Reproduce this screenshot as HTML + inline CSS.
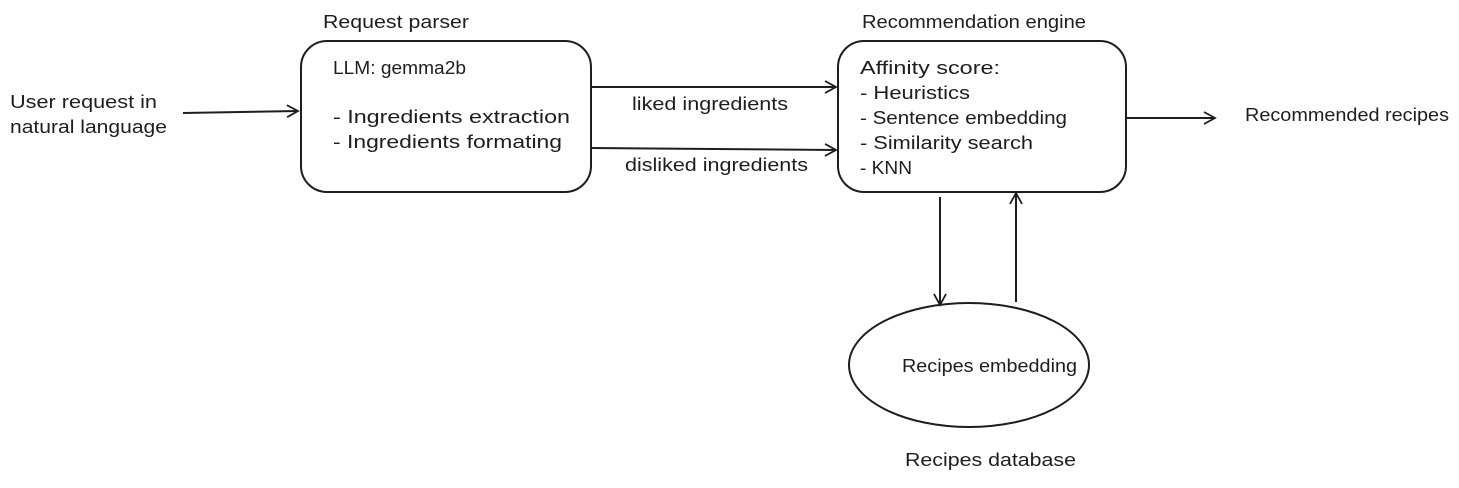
<!DOCTYPE html>
<html><head><meta charset="utf-8"><style>
html,body{margin:0;padding:0;background:#fff;}
svg text{font-family:"Liberation Sans",sans-serif;font-size:18px;fill:#1e1e1e;}
</style></head><body>
<svg width="1459" height="483" viewBox="0 0 1459 483" xmlns="http://www.w3.org/2000/svg">
<defs><marker id="a" markerWidth="14" markerHeight="14" refX="12" refY="7" orient="auto" markerUnits="userSpaceOnUse">
<path d="M1,1 L12,7 L1,13" fill="none" stroke="#1e1e1e" stroke-width="1.8"/></marker></defs>
<g fill="none" stroke="#1e1e1e" stroke-width="2">
<rect x="301" y="41" width="290" height="151" rx="26"/>
<rect x="838" y="41" width="288" height="151" rx="26"/>
<ellipse cx="969" cy="365" rx="120" ry="62"/>
<line x1="183" y1="113" x2="298" y2="111" marker-end="url(#a)"/>
<line x1="591" y1="87" x2="836" y2="87" marker-end="url(#a)"/>
<line x1="591" y1="148" x2="836" y2="150" marker-end="url(#a)"/>
<line x1="1126" y1="118" x2="1215" y2="118" marker-end="url(#a)"/>
<line x1="940" y1="197" x2="940" y2="305" marker-end="url(#a)"/>
<line x1="1016" y1="302" x2="1016" y2="193" marker-end="url(#a)"/>
</g>
<g lengthAdjust="spacingAndGlyphs">
<text x="10" y="108" textLength="147" lengthAdjust="spacingAndGlyphs">User request in</text>
<text x="10" y="133" textLength="157" lengthAdjust="spacingAndGlyphs">natural language</text>
<text x="323" y="28" textLength="146" lengthAdjust="spacingAndGlyphs">Request parser</text>
<text x="333" y="74" textLength="133" lengthAdjust="spacingAndGlyphs">LLM: gemma2b</text>
<text x="333" y="123" textLength="237" lengthAdjust="spacingAndGlyphs">- Ingredients extraction</text>
<text x="333" y="148" textLength="229" lengthAdjust="spacingAndGlyphs">- Ingredients formating</text>
<text x="632" y="110" textLength="156" lengthAdjust="spacingAndGlyphs">liked ingredients</text>
<text x="625" y="171" textLength="183" lengthAdjust="spacingAndGlyphs">disliked ingredients</text>
<text x="862" y="28" textLength="224" lengthAdjust="spacingAndGlyphs">Recommendation engine</text>
<text x="860" y="74" textLength="140" lengthAdjust="spacingAndGlyphs">Affinity score:</text>
<text x="860" y="99" textLength="110" lengthAdjust="spacingAndGlyphs">- Heuristics</text>
<text x="860" y="124" textLength="207" lengthAdjust="spacingAndGlyphs">- Sentence embedding</text>
<text x="860" y="149" textLength="173" lengthAdjust="spacingAndGlyphs">- Similarity search</text>
<text x="860" y="174" textLength="52" lengthAdjust="spacingAndGlyphs">- KNN</text>
<text x="1245" y="121" textLength="204" lengthAdjust="spacingAndGlyphs">Recommended recipes</text>
<text x="902" y="372" textLength="175" lengthAdjust="spacingAndGlyphs">Recipes embedding</text>
<text x="905" y="466" textLength="171" lengthAdjust="spacingAndGlyphs">Recipes database</text>
</g>
</svg>
</body></html>
